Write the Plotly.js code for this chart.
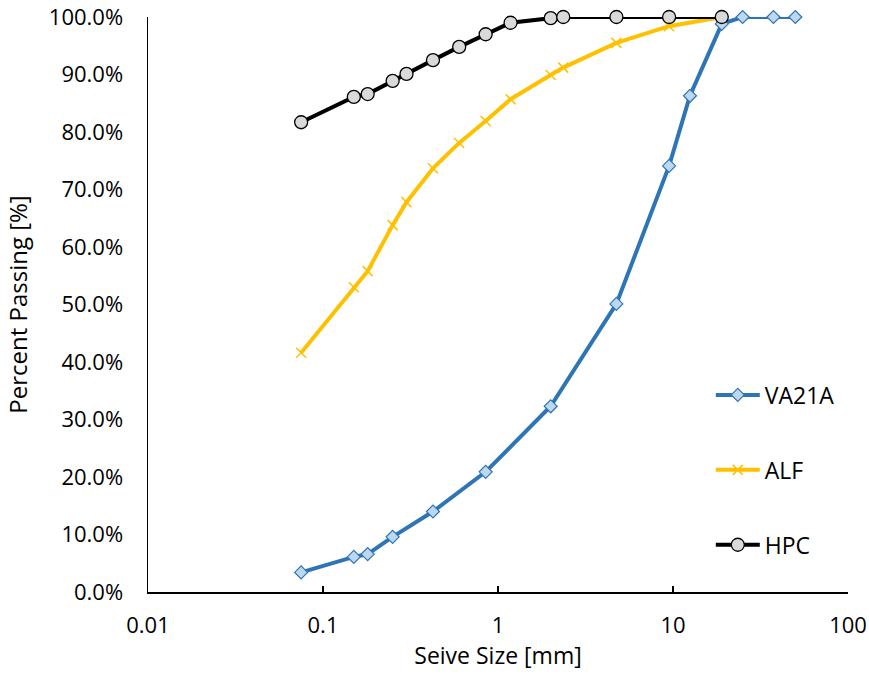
<!DOCTYPE html>
<html>
<head>
<meta charset="utf-8">
<script src="https://cdn.plot.ly/plotly-3.0.1.min.js"></script>
<style>html,body{margin:0;padding:0;background:#fff;}#chart{width:869px;height:682px;}</style>
</head>
<body>
<div id="chart"></div>
<script>
// Sieve sizes [mm]
var sizesVA21A = [0.075, 0.15, 0.18, 0.25, 0.425, 0.85, 2.0, 4.75, 9.5, 12.5, 19, 25, 37.5, 50];
var passVA21A  = [0.034, 0.061, 0.066, 0.096, 0.140, 0.209, 0.323, 0.501, 0.741, 0.863, 0.988, 1.0, 1.0, 1.0];

var sizesALF = [0.075, 0.15, 0.18, 0.25, 0.3, 0.425, 0.6, 0.85, 1.18, 2.0, 2.36, 4.75, 9.5, 19];
var passALF  = [0.416, 0.530, 0.558, 0.638, 0.678, 0.737, 0.781, 0.819, 0.857, 0.899, 0.912, 0.955, 0.984, 1.0];

var sizesHPC = [0.075, 0.15, 0.18, 0.25, 0.3, 0.425, 0.6, 0.85, 1.18, 2.0, 2.36, 4.75, 9.5, 19];
var passHPC  = [0.817, 0.861, 0.866, 0.889, 0.901, 0.925, 0.948, 0.970, 0.990, 0.998, 1.0, 1.0, 1.0, 1.0];

var xTickVals = [0.01, 0.1, 1, 10, 100];
var xTickText = ["0.01", "0.1", "1", "10", "100"];
var yTickVals = [0, 0.1, 0.2, 0.3, 0.4, 0.5, 0.6, 0.7, 0.8, 0.9, 1.0];

var FONT = "Open Sans, Liberation Sans, sans-serif";

var traces = [
  {
    x: sizesVA21A, y: passVA21A, name: "VA21A", type: "scatter", mode: "lines+markers",
    legendgroup: "a", cliponaxis: false,
    line: {color: "#2E75B6", width: 4},
    marker: {symbol: "diamond", size: 10, color: "#BDD7EE", line: {color: "#2E75B6", width: 1.2}}
  },
  {
    x: sizesALF, y: passALF, name: "ALF", type: "scatter", mode: "lines+markers",
    legendgroup: "b", cliponaxis: false,
    line: {color: "#FFC000", width: 4},
    marker: {symbol: "x-thin", size: 10, color: "#FFC000", line: {color: "#FFC000", width: 1.5}}
  },
  {
    x: sizesHPC, y: passHPC, name: "HPC", type: "scatter", mode: "lines+markers",
    legendgroup: "c", cliponaxis: false,
    line: {color: "#000000", width: 4},
    marker: {symbol: "circle", size: 13, color: "#D9D9D9", line: {color: "#000000", width: 1.3}}
  }
];

var layout = {
  width: 869, height: 682,
  margin: {l: 148, r: 21, t: 17, b: 90},
  paper_bgcolor: "#ffffff", plot_bgcolor: "#ffffff",
  font: {family: FONT, size: 22, color: "#000000"},
  showlegend: true,
  legend: {
    x: 0.804, y: 0.38, xanchor: "left", yanchor: "top",
    font: {family: FONT, size: 23, color: "#000"},
    itemwidth: 44, tracegroupgap: 42, traceorder: "grouped",
    bgcolor: "rgba(0,0,0,0)"
  },
  xaxis: {
    type: "log", range: [-2, 2],
    tickvals: xTickVals, ticktext: xTickText,
    ticks: "inside", ticklen: 6, tickwidth: 1.3, tickcolor: "#000",
    showline: true, linecolor: "#000", linewidth: 1.5,
    showgrid: false, zeroline: false,
    tickfont: {family: FONT, size: 22, color: "#000"},
    ticklabelstandoff: 13,
    title: {text: "Seive Size [mm]", font: {family: FONT, size: 23, color: "#000"}, standoff: 10},
    automargin: false
  },
  yaxis: {
    range: [0, 1], tickvals: yTickVals, tickformat: ".1%",
    ticks: "", showline: true, linecolor: "#000", linewidth: 1.5,
    showgrid: false, zeroline: false,
    tickfont: {family: FONT, size: 22, color: "#000"},
    ticklabelstandoff: 19,
    title: {text: "Percent Passing [%]", font: {family: FONT, size: 24, color: "#000"}, standoff: 14},
    automargin: false
  }
};

Plotly.newPlot("chart", traces, layout, {displayModeBar: false, staticPlot: true});
</script>
</body>
</html>
